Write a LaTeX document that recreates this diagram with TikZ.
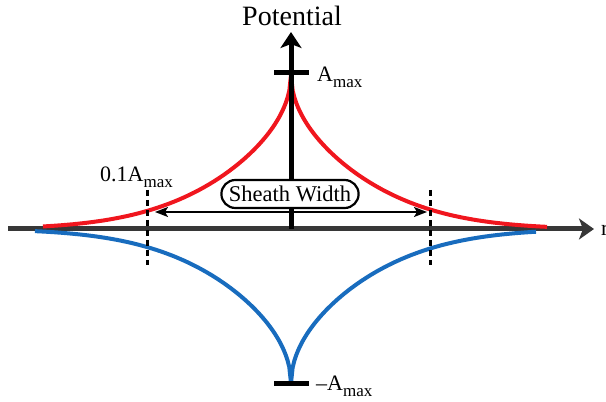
\documentclass[tikz,border=0pt]{standalone}
\usepackage{fontspec}
\setmainfont{Liberation Serif}
\usetikzlibrary{arrows.meta,shapes.misc}
\definecolor{curvered}{RGB}{240,22,30}
\definecolor{curveblue}{RGB}{24,108,190}
\definecolor{axisgray}{RGB}{55,55,55}
\newcommand\mysub[1]{\raisebox{-6pt}{\fontsize{17}{17}\selectfont #1}}
\tikzset{
  lbl/.style={inner sep=0pt, anchor=base west, font=\fontsize{22}{24}\selectfont},
  curve/.style={line width=4pt},
  tickbar/.style={line width=5pt, black},
  dashmark/.style={line width=3pt, dash pattern=on 6pt off 4pt},
  widthbox/.style={draw, line width=2.2pt, fill=white, rounded rectangle, minimum height=28pt, inner xsep=5pt, inner ysep=0pt, font=\fontsize{22.5}{24}\selectfont}
}
\pgfmathdeclarefunction{prof}{1}{\pgfmathparse{154*exp(-(0.004*#1+0.078*sqrt(#1)+0.000036*#1*#1))}}
\begin{document}
\begin{tikzpicture}[x=1pt,y=1pt]
\useasboundingbox (0,0) rectangle (606,402);
% coordinates
\coordinate (xs) at (8,173);
\coordinate (xe) at (594,173);
\coordinate (o) at (291,173);
\coordinate (ye) at (291,370);
\coordinate (tl) at (274,329);
\coordinate (tr) at (309,329);
\coordinate (bl) at (274,18);
\coordinate (br) at (309,18);
\coordinate (dl1) at (147,212);
\coordinate (dl2) at (147,137);
\coordinate (dr1) at (430,212);
\coordinate (dr2) at (430,137);
\coordinate (al) at (155,190);
\coordinate (ar) at (427,190);
% horizontal axis
\draw[line width=5pt, axisgray, -{Stealth[length=15pt,width=21pt,inset=4pt]}] (xs) -- (xe);
% curves
\draw[curve, curveblue] plot[domain=0:256, samples=150] ({291-\x},{173-prof(\x)});
\draw[curve, curveblue] plot[domain=0:245, samples=150] ({291+\x},{173-prof(\x)});
\draw[curve, curvered] plot[domain=0:248, samples=150] ({291-\x},{173+prof(\x)});
\draw[curve, curvered] plot[domain=0:256, samples=150] ({291+\x},{173+prof(\x)});
% vertical axis
\draw[line width=5pt, black, -{Stealth[length=16pt,width=21pt,inset=4pt]}] (o) -- (ye);
% tick bars
\draw[tickbar] (tl) -- (tr);
\draw[tickbar] (bl) -- (br);
% dashed markers
\draw[dashmark] (dl1) -- (dl2);
\draw[dashmark] (dr1) -- (dr2);
% sheath width arrow
\draw[line width=2pt, {Stealth[length=13pt,width=10pt,inset=3pt]}-{Stealth[length=13pt,width=10pt,inset=3pt]}] (al) -- (ar);
\node[widthbox] (sw) at (290,208) {Sheath Width};
% labels
\node[inner sep=0pt, font=\fontsize{28}{30}\selectfont] (pot) at (292,386) {Potential};
\node[lbl] (amax) at (317,320) {A\mysub{max}};
\node[lbl] (namax) at (316,11) {–A\mysub{max}};
\node[lbl] (tenth) at (100,220) {0.1A\mysub{max}};
\node[lbl] (rlab) at (601,166) {r};
\end{tikzpicture}
\end{document}
